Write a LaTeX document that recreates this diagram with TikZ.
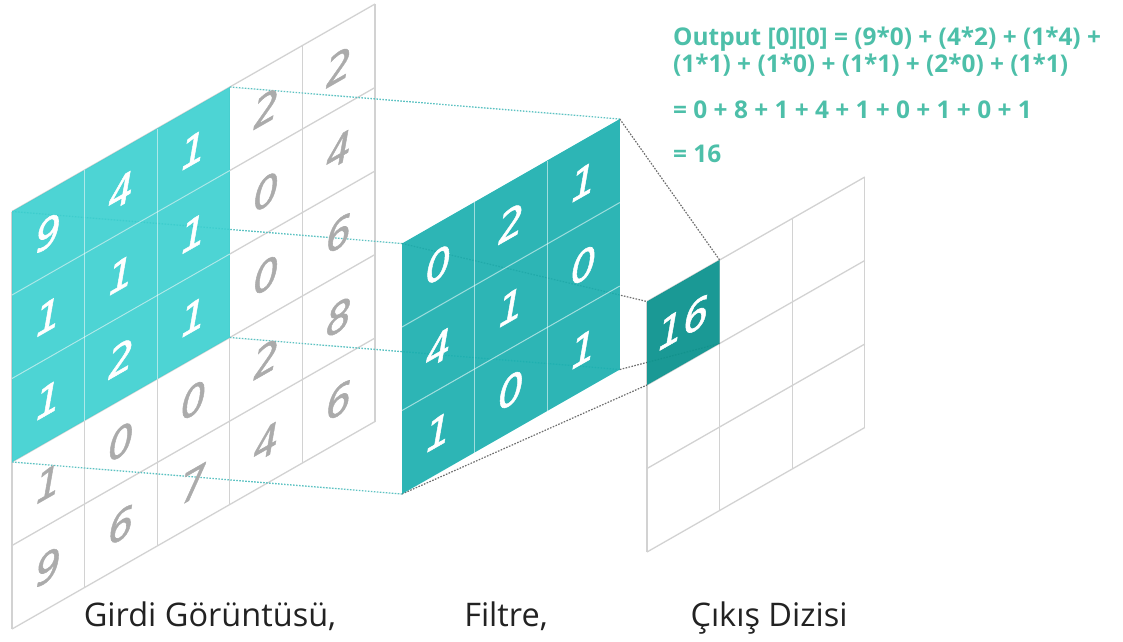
\documentclass[tikz,border=0pt]{standalone}
\usepackage{fontspec}
\setmainfont{Open Sans}
\newfontfamily\digitfont[FakeBold=1.3]{DejaVu Sans}
\definecolor{incyan}{HTML}{3ACFCF}
\definecolor{filteal}{HTML}{1BAFAF}
\definecolor{outteal}{HTML}{0E948F}
\definecolor{gridgray}{HTML}{D2D2D2}
\definecolor{diggray}{HTML}{ABABAB}
\definecolor{formcol}{HTML}{4DBFA9}
\definecolor{dotteal}{HTML}{5CC2C2}
\definecolor{dotgray}{HTML}{6E6E6E}
\definecolor{labcol}{HTML}{222222}
\tikzset{
  gridline/.style={draw=gridgray, line width=1.3pt},
  innerline/.style={draw=white, line width=1pt, draw opacity=0.55},
  dig/.style={transform shape, inner sep=0pt, font={\digitfont\itshape\fontsize{40}{44}\selectfont}},
  tealdot/.style={draw=dotteal, line width=1.3pt, dash pattern=on 1.6pt off 1.4pt},
  graydot/.style={draw=dotgray, line width=1.2pt, dash pattern=on 1.6pt off 1.4pt},
  formula/.style={anchor=base west, inner sep=0pt, text=formcol, font={\bfseries\fontsize{24.4}{27}\selectfont}},
  caption/.style={anchor=base, inner sep=0pt, text=labcol, font={\fontsize{32.5}{36}\selectfont}}
}
\begin{document}
\begin{tikzpicture}[x=1pt,y=1pt]
\useasboundingbox (0,0) rectangle (1123,641);
\def\W{72.6}
\def\H{83.5}
% ---- corner coordinates ----
\begin{scope}[shift={(12,12)}, yslant=0.5716]
  \coordinate (inTL) at (0,{5*\H});
  \coordinate (inTR) at ({3*\W},{5*\H});
  \coordinate (inBR) at ({3*\W},{2*\H});
  \coordinate (inBL) at (0,{2*\H});
\end{scope}
\begin{scope}[shift={(402,147)}, yslant=0.5716]
  \coordinate (fTL) at (0,{3*\H});
  \coordinate (fTR) at ({3*\W},{3*\H});
  \coordinate (fBR) at ({3*\W},0);
  \coordinate (fBL) at (0,0);
\end{scope}
\begin{scope}[shift={(647,89)}, yslant=0.5716]
  \coordinate (oTL) at (0,{3*\H});
  \coordinate (oTR) at (\W,{3*\H});
  \coordinate (oBR) at (\W,{2*\H});
  \coordinate (oBL) at (0,{2*\H});
\end{scope}
% ---- input grid lines ----
\begin{scope}[shift={(12,12)}, yslant=0.5716]
  \foreach \c in {0,...,5} \draw[gridline] ({\c*\W},0) -- ({\c*\W},{5*\H});
  \foreach \r in {0,...,5} \draw[gridline] (0,{\r*\H}) -- ({5*\W},{\r*\H});
\end{scope}
% ---- output grid lines ----
\begin{scope}[shift={(647,89)}, yslant=0.5716]
  \foreach \c in {0,...,3} \draw[gridline] ({\c*\W},0) -- ({\c*\W},{3*\H});
  \foreach \r in {0,...,3} \draw[gridline] (0,{\r*\H}) -- ({3*\W},{\r*\H});
\end{scope}
% ---- connectors ----
\draw[tealdot] (inTL) -- (fTL);
\draw[tealdot] (inTR) -- (fTR);
\draw[tealdot] (inBR) -- (fBR);
\draw[tealdot] (inBL) -- (fBL);
\draw[graydot] (fTL) -- (oTL);
\draw[graydot] (fTR) -- (oTR);
\draw[graydot] (fBR) -- (oBR);
\draw[graydot] (fBL) -- (oBL);
% ---- input matrix ----
\begin{scope}[shift={(12,12)}, yslant=0.5716]
  \fill[incyan, fill opacity=0.9] (0,{2*\H}) rectangle ({3*\W},{5*\H});
  \foreach \c in {1,2} \draw[innerline] ({\c*\W},{2*\H}) -- ({\c*\W},{5*\H});
  \foreach \r in {3,4} \draw[innerline] (0,{\r*\H}) -- ({3*\W},{\r*\H});
  \foreach \v [count=\i from 0] in {9,4,1,2,2, 1,1,1,0,4, 1,2,1,0,6, 1,0,0,2,8, 9,6,7,4,6}{
    \pgfmathtruncatemacro{\cc}{mod(\i,5)}
    \pgfmathtruncatemacro{\rr}{div(\i,5)}
    \pgfmathtruncatemacro{\hot}{(\cc<3)&&(\rr<3)}
    \ifnum\hot=1
      \node[dig, text=white] (in\i) at ({(\cc+0.5)*\W},{(4-\rr+0.5)*\H}) {\v};
    \else
      \node[dig, text=diggray] (in\i) at ({(\cc+0.5)*\W},{(4-\rr+0.5)*\H}) {\v};
    \fi
  }
\end{scope}
% ---- filter ----
\begin{scope}[shift={(402,147)}, yslant=0.5716]
  \fill[filteal, fill opacity=0.92] (0,0) rectangle ({3*\W},{3*\H});
  \foreach \c in {1,2} \draw[innerline] ({\c*\W},0) -- ({\c*\W},{3*\H});
  \foreach \r in {1,2} \draw[innerline] (0,{\r*\H}) -- ({3*\W},{\r*\H});
  \foreach \v [count=\i from 0] in {0,2,1, 4,1,0, 1,0,1}{
    \pgfmathtruncatemacro{\cc}{mod(\i,3)}
    \pgfmathtruncatemacro{\rr}{div(\i,3)}
    \node[dig, text=white] (f\i) at ({(\cc+0.5)*\W},{(2-\rr+0.5)*\H}) {\v};
  }
\end{scope}
% ---- output cell ----
\begin{scope}[shift={(647,89)}, yslant=0.5716]
  \fill[outteal, fill opacity=0.95] (0,{2*\H}) rectangle (\W,{3*\H});
  \node[dig, text=white, font={\digitfont\itshape\fontsize{40}{44}\selectfont}] (out0) at ({0.5*\W},{2.5*\H}) {16};
\end{scope}
% ---- formula ----
\node[formula] (fl1) at (673,595) {Output [0][0] = (9*0) + (4*2) + (1*4) +};
\node[formula] (fl2) at (673,568) {(1*1) + (1*0) + (1*1) + (2*0) + (1*1)};
\node[formula] (fl3) at (673,522) {= 0 + 8 + 1 + 4 + 1 + 0 + 1 + 0 + 1};
\node[formula] (fl4) at (673,478) {= 16};
% ---- captions ----
\node[caption] (capIn) at (210,15) {Girdi Görüntüsü,};
\node[caption] (capF) at (506,15) {Filtre,};
\node[caption] (capO) at (769,15) {Çıkış Dizisi};
\end{tikzpicture}
\end{document}
